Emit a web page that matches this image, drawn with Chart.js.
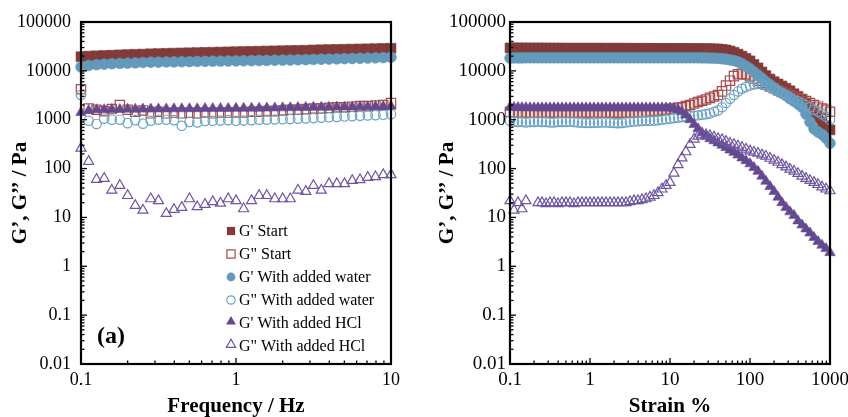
<!DOCTYPE html>
<html>
<head>
<meta charset="utf-8">
<script src="https://cdn.jsdelivr.net/npm/chart.js@4.4.0/dist/chart.umd.min.js"></script>
<style>
html, body { margin: 0; padding: 0; background: #fff; overflow: hidden; width: 848px; height: 417px; }
#panelA { position: absolute; left: 0; top: 0; }
#panelB { position: absolute; left: 424px; top: 0; }
</style>
</head>
<body>
<canvas id="panelA" width="424" height="417"></canvas>
<canvas id="panelB" width="430" height="417"></canvas>
<script>
// ---- data ----
const seriesNames = ["G' Start", 'G" Start', "G' With added water", 'G" With added water', "G' With added HCl", 'G" With added HCl'];

// (a) frequency sweep
const frequencyHz = [0.1,0.112,0.126,0.141,0.158,0.178,0.2,0.224,0.251,0.282,0.316,0.355,0.398,0.447,0.501,0.562,0.631,0.708,0.794,0.891,
  1,1.12,1.26,1.41,1.58,1.78,2,2.24,2.51,2.82,3.16,3.55,3.98,4.47,5.01,5.62,6.31,7.08,7.94,8.91,10];
const gpStartF = [19500,20000,20300,20600,20900,21200,21500,21800,22000,22300,22500,22800,23000,23200,23400,23600,23800,24000,24200,24400,
  24600,24800,25000,25200,25400,25600,25800,26000,26200,26400,26700,27000,27200,27400,27600,27800,28000,28200,28400,28700,29000];
const gppStartF = [4200,1700,1600,1500,1650,2000,1600,1450,1550,1350,1450,1350,1400,1350,1400,1350,1400,1350,1400,1400,
  1400,1400,1450,1450,1500,1500,1550,1600,1600,1650,1700,1700,1750,1800,1800,1850,1900,1900,1950,2000,2200];
const gpWaterF = [12000,12900,13400,13700,14000,14200,14400,14600,14800,15000,15100,15200,15300,15400,15500,15600,15700,15800,15850,15900,
  16000,16100,16200,16300,16400,16500,16600,16700,16850,17000,17150,17300,17450,17600,17750,17900,18100,18300,18500,18700,19000];
const gppWaterF = [3200,950,820,1050,1000,1000,850,980,830,950,1000,1000,980,750,900,880,940,950,960,980,
  950,960,980,1000,1000,1010,1020,1030,1050,1060,1080,1100,1120,1140,1160,1180,1200,1220,1240,1260,1300];
const gpHclF = [1400,1550,1600,1600,1620,1620,1640,1640,1650,1650,1660,1660,1670,1670,1680,1680,1690,1690,1700,1700,
  1710,1710,1720,1720,1730,1740,1750,1760,1770,1780,1790,1800,1800,1810,1820,1830,1840,1850,1860,1870,1880];
const gppHclF = [260,140,60,63,36,45,28,17.5,14,24,22,12,14.5,16,24,16.5,18.5,21,19.5,24,
  22,15,22,28,28,24,24,24,36,34,45,36,49,49,49,57,59,66,68,75,75];

// (b) strain sweep
const strainPct = [0.1,0.112,0.126,0.141,0.158,0.178,0.2,0.224,0.251,0.282,0.316,0.355,0.398,0.447,0.501,0.562,0.631,0.708,0.794,0.891,
  1,1.12,1.26,1.41,1.58,1.78,2,2.24,2.51,2.82,3.16,3.55,3.98,4.47,5.01,5.62,6.31,7.08,7.94,8.91,
  10,11.2,12.6,14.1,15.8,17.8,20,22.4,25.1,28.2,31.6,35.5,39.8,44.7,50.1,56.2,63.1,70.8,79.4,89.1,
  100,112,126,141,158,178,200,224,251,282,316,355,398,447,501,562,631,708,794,891,1000];
const gpStartS = [29500,29400,29400,29300,29300,29300,29200,29200,29200,29200,29100,29100,29100,29100,29000,29000,29000,29000,29000,29000,
  29000,29000,29000,29000,28900,28900,28900,28900,28900,28900,28800,28800,28800,28800,28800,28800,28700,28700,28700,28700,
  28700,28600,28600,28600,28500,28500,28500,28400,28400,28300,28300,28200,28000,27500,26800,25500,24000,22000,20000,18000,
  16000,13500,11500,9500,8000,6800,6000,5400,4900,4400,3900,3400,3000,2600,2200,1800,1450,1100,900,750,620];
const gppStartS = [1450,1400,1400,1400,1400,1400,1400,1400,1400,1400,1400,1400,1400,1400,1400,1400,1400,1400,1400,1400,
  1400,1400,1400,1400,1400,1400,1400,1400,1400,1400,1400,1400,1420,1440,1460,1480,1500,1530,1560,1600,
  1650,1700,1750,1800,1900,2000,2150,2300,2450,2600,2800,3000,3200,3800,5000,6300,7800,8500,8700,8400,
  7800,7000,6300,5700,5200,4800,4400,4000,3700,3400,3200,3000,2800,2650,2400,2200,2000,1850,1700,1600,1450];
const gpWaterS = [18300,18400,18400,18400,18500,18500,18500,18500,18500,18500,18500,18500,18500,18500,18500,18500,18500,18500,18500,18500,
  18500,18500,18500,18500,18500,18500,18500,18500,18500,18500,18500,18500,18500,18500,18500,18500,18500,18500,18500,18500,
  18500,18500,18500,18500,18500,18500,18500,18500,18400,18400,18300,18200,18000,17700,17300,16800,16200,15300,14000,12500,
  11000,9500,8200,7000,6000,5200,4500,3900,3500,3100,2700,2400,2100,1800,1300,900,650,560,500,420,330];
const gppWaterS = [950,920,900,900,880,900,900,920,900,900,880,880,900,900,900,920,900,880,870,860,
  860,870,870,880,880,870,860,850,860,880,900,920,930,940,950,950,960,970,1000,1020,
  1050,1080,1100,1130,1150,1180,1200,1230,1260,1300,1350,1450,1550,1800,2200,2700,3200,3800,4300,4700,
  5000,5300,5400,5300,5000,4600,4200,3800,3500,3200,2900,2600,2400,2200,2000,1800,1600,1450,1300,1150,1000];
const gpHclS = [1800,1780,1770,1760,1760,1760,1750,1750,1750,1750,1750,1750,1750,1750,1750,1750,1750,1750,1750,1750,
  1750,1750,1750,1750,1750,1750,1750,1750,1750,1750,1750,1750,1750,1750,1750,1750,1750,1750,1750,1750,
  1740,1700,1600,1450,1250,1000,800,650,540,460,410,370,335,300,270,240,215,190,165,145,
  125,105,88,70,55,43,34,26,20,16,13,11,8.5,7,5.8,4.8,3.9,3.2,2.7,2.3,1.9];
const gppHclS = [22,14,20,15,22,null,null,20,20,19,20,20,19,20,20,20,19,20,20,20,
  20,20,20,20,20,20,20,20,20,20,21,22,22,23,24,26,28,32,38,45,
  52,80,120,165,220,310,400,460,490,490,470,440,410,390,360,330,310,290,270,250,
  230,215,205,190,178,162,148,134,120,108,97,88,79,70,63,57,52,47,42,38,35];

// tick labels
const yTicks = [0.01, 0.1, 1, 10, 100, 1000, 10000, 100000];
const yTickLabels = ['0.01', '0.1', '1', '10', '100', '1000', '10000', '100000'];
const xTicksA = [0.1, 1, 10];
const xTickLabelsA = ['0.1', '1', '10'];
const xTicksB = [0.1, 1, 10, 100, 1000];
const xTickLabelsB = ['0.1', '1', '10', '100', '1000'];

// ---- styles ----
const serif = "'Liberation Serif', 'Times New Roman', serif";
const markerStyles = [
  { pointStyle: 'rect', radius: 7, fill: true, color: '#813b39' },
  { pointStyle: 'rect', radius: 6.6, fill: false, color: '#a54e4c' },
  { pointStyle: 'circle', radius: 5.4, fill: true, color: '#6399bb' },
  { pointStyle: 'circle', radius: 4.7, fill: false, color: '#6aa3c4' },
  { pointStyle: 'triangle', radius: 6, fill: true, color: '#654990' },
  { pointStyle: 'triangle', radius: 5.8, fill: false, color: '#6f56a1' }
];

function drawMarker(ctx, st, x, y, r) {
  ctx.beginPath();
  if (st.pointStyle === 'rect') {
    const h = r * Math.SQRT1_2;
    ctx.rect(x - h, y - h, 2 * h, 2 * h);
  } else if (st.pointStyle === 'circle') {
    ctx.arc(x, y, r, 0, Math.PI * 2);
  } else {
    y -= r / 4;
    ctx.moveTo(x, y - r);
    ctx.lineTo(x + r * 0.866, y + r / 2);
    ctx.lineTo(x - r * 0.866, y + r / 2);
    ctx.closePath();
  }
  if (st.fill) {
    ctx.fillStyle = st.color;
    ctx.fill();
  } else {
    ctx.lineWidth = 1.2;
    ctx.strokeStyle = st.color;
    ctx.stroke();
  }
}

// frame with inward log ticks
const framePlugin = {
  id: 'frame',
  afterDatasetsDraw(chart) {
    const { ctx, chartArea: a, scales } = chart;
    ctx.save();
    ctx.strokeStyle = '#000';
    ctx.lineWidth = 1.3;
    const xs = scales.x, ys = scales.y;
    for (let d = xs.min; d < xs.max * 1.001; d *= 10) {
      for (let m = 1; m <= 9; m++) {
        const v = d * m;
        if (v > xs.max * 1.001) break;
        const px = xs.getPixelForValue(v);
        const len = m === 1 ? 6 : 3.5;
        ctx.beginPath(); ctx.moveTo(px, a.bottom); ctx.lineTo(px, a.bottom - len); ctx.stroke();
      }
    }
    for (let d = ys.min; d < ys.max * 1.001; d *= 10) {
      for (let m = 1; m <= 9; m++) {
        const v = d * m;
        if (v > ys.max * 1.001) break;
        const py = ys.getPixelForValue(v);
        const len = m === 1 ? 6 : 3.5;
        ctx.beginPath(); ctx.moveTo(a.left - 1, py); ctx.lineTo(a.left + len, py); ctx.stroke();
      }
    }
    ctx.lineWidth = 2.2;
    ctx.strokeRect(a.left, a.top, a.right - a.left, a.bottom - a.top);
    ctx.restore();
  }
};

const legendPlugin = {
  id: 'insideLegend',
  afterDraw(chart, args, opts) {
    const ctx = chart.ctx;
    ctx.save();
    const legendSizes = [5.8, 5.8, 4.4, 4.2, 5.6, 5.4];
    seriesNames.forEach((name, i) => {
      const y = opts.y + i * opts.gap;
      drawMarker(ctx, markerStyles[i], opts.x, y, legendSizes[i]);
      ctx.fillStyle = '#000';
      ctx.font = '16px ' + serif;
      ctx.textBaseline = 'middle';
      ctx.textAlign = 'left';
      ctx.fillText(name, opts.x + 8, y + 1);
    });
    ctx.font = 'bold 24px ' + serif;
    ctx.fillStyle = '#000';
    ctx.textBaseline = 'middle';
    ctx.fillText(opts.tag, opts.tagX, opts.tagY);
    ctx.restore();
  }
};

function makePanel(canvasId, xs, ySeries, cfg) {
  const datasets = ySeries.map((ys, i) => {
    const st = markerStyles[i];
    return {
      label: seriesNames[i],
      data: xs.map((x, k) => ({ x: x, y: ys[k] })).filter(p => p.y !== null),
      showLine: false,
      pointStyle: st.pointStyle,
      pointRadius: st.radius,
      pointHoverRadius: st.radius,
      pointBackgroundColor: st.fill ? st.color : 'rgba(255,255,255,0)',
      pointBorderColor: st.color,
      pointBorderWidth: st.fill ? 0.6 : 1.2,
      order: 6 - i,
      clip: false
    };
  });
  return new Chart(document.getElementById(canvasId), {
    type: 'scatter',
    data: { datasets: datasets },
    options: {
      responsive: false,
      animation: false,
      events: [],
      layout: { padding: { left: 0, right: cfg.padRight, top: 22, bottom: 0 } },
      plugins: {
        legend: { display: false },
        tooltip: { enabled: false },
        insideLegend: cfg.legend
      },
      scales: {
        x: {
          type: 'logarithmic',
          min: cfg.xTicks[0],
          max: cfg.xTicks[cfg.xTicks.length - 1],
          afterBuildTicks: s => { s.ticks = cfg.xTicks.map(v => ({ value: v })); },
          afterFit: s => { s.height = 53; },
          grid: { display: false, drawTicks: false },
          border: { display: false },
          ticks: {
            autoSkip: false, maxRotation: 0, padding: 5, color: '#000',
            font: { family: serif, size: cfg.tickSize },
            callback: (v, idx) => cfg.xTickLabels[idx]
          },
          title: {
            display: true, text: cfg.xTitle, color: '#000', padding: { top: 0, bottom: 0 },
            font: { family: serif, size: 21, weight: 'bold', lineHeight: 1 }
          }
        },
        y: {
          type: 'logarithmic',
          min: 0.01,
          max: 100000,
          afterBuildTicks: s => { s.ticks = yTicks.map(v => ({ value: v })); },
          afterFit: s => { s.width = cfg.yWidth; },
          grid: { display: false, drawTicks: false },
          border: { display: false },
          ticks: {
            autoSkip: false, padding: cfg.yPad, color: '#000',
            font: { family: serif, size: cfg.tickSize },
            callback: (v, idx) => yTickLabels[idx]
          },
          title: {
            display: true, text: 'G\u2019, G\u2019\u2019 / Pa', color: '#000', padding: { top: cfg.yTitlePad, bottom: 0 },
            font: { family: serif, size: 21, weight: 'bold', lineHeight: 1 }
          }
        }
      }
    },
    plugins: [framePlugin, legendPlugin]
  });
}

makePanel('panelA', frequencyHz, [gpStartF, gppStartF, gpWaterF, gppWaterF, gpHclF, gppHclF], {
  xTicks: xTicksA, xTickLabels: xTickLabelsA, xTitle: 'Frequency / Hz',
  padRight: 33, yWidth: 81, yPad: 10, yTitlePad: 10, tickSize: 18,
  legend: { x: 231, y: 231, gap: 23, tag: '(a)', tagX: 97, tagY: 337 }
});

makePanel('panelB', strainPct, [gpStartS, gppStartS, gpWaterS, gppWaterS, gpHclS, gppHclS], {
  xTicks: xTicksB, xTickLabels: xTickLabelsB, xTitle: 'Strain %',
  padRight: 23, yWidth: 86, yPad: 4, yTitlePad: 13, tickSize: 19,
  legend: { x: 564, y: 221, gap: 23.3, tag: '(b)', tagX: 786, tagY: 337 }
});
</script>
</body>
</html>
